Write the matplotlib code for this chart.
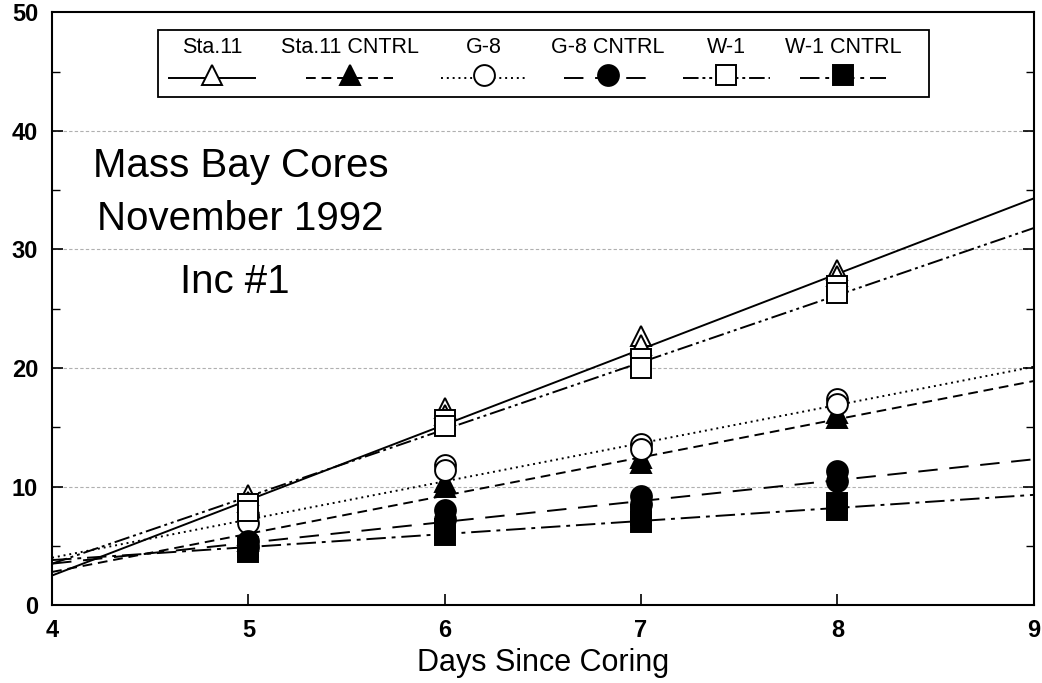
import numpy as np
import matplotlib.pyplot as plt
from matplotlib.lines import Line2D
from matplotlib.patches import Rectangle

plt.rcParams['font.family'] = ['Liberation Sans', 'DejaVu Sans']

# --- DATA ---
days = [5, 6, 7, 8]

sta11_a = [9.3, 16.6, 22.7, 28.3]
sta11_b = [8.7, 16.0, 21.9, 27.8]
sta11c_a = [5.9, 10.4, 12.4, 16.2]
sta11c_b = [5.4, 10.0, 12.0, 15.8]
g8_a = [7.6, 11.8, 13.6, 17.4]
g8_b = [6.9, 11.4, 13.2, 17.0]
g8c_a = [5.4, 8.0, 9.2, 11.3]
g8c_b = [4.9, 7.3, 8.5, 10.5]
w1_a = [8.5, 15.6, 20.8, 26.9]
w1_b = [7.9, 15.1, 20.0, 26.3]
w1c_a = [4.9, 6.4, 7.6, 8.6]
w1c_b = [4.5, 5.9, 7.0, 8.0]

# regression lines, value at day 4 and day 9
fit_days = [4, 9]
sta11_fit = [2.5, 34.3]
sta11c_fit = [2.8, 18.9]
g8_fit = [4.0, 20.1]
g8c_fit = [3.5, 12.3]
w1_fit = [3.5, 31.8]
w1c_fit = [3.8, 9.3]

labels = ["Sta.11", "Sta.11 CNTRL", "G-8", "G-8 CNTRL", "W-1", "W-1 CNTRL"]

series = [
    (sta11_a, sta11_b, sta11_fit, '^', 'white', '-'),
    (sta11c_a, sta11c_b, sta11c_fit, '^', 'black', (0, (5, 3))),
    (g8_a, g8_b, g8_fit, 'o', 'white', (0, (1, 2))),
    (g8c_a, g8c_b, g8c_fit, 'o', 'black', (0, (10, 6))),
    (w1_a, w1_b, w1_fit, 's', 'white', (0, (8, 2, 1.5, 2, 1.5, 2))),
    (w1c_a, w1c_b, w1c_fit, 's', 'black', (0, (10, 3, 2, 3))),
]

fig = plt.figure(figsize=(10.42, 6.83), dpi=100)
ax = fig.add_axes([0.050, 0.114, 0.942, 0.868])

# gridlines
for yv in [10, 20, 30, 40]:
    ax.axhline(yv, color='#b0b0b0', lw=0.8, ls=(0, (3, 2)), zorder=0)

# fitted lines first, then markers
for a, b, fit, mk, fc, ls in series:
    ax.plot(fit_days, fit, color='black', lw=1.4, ls=ls, zorder=2)

for a, b, fit, mk, fc, ls in series:
    for rep in (a, b):
        ax.plot(days, rep, ls='none', marker=mk, ms=15, mfc=fc, mec='black',
                mew=1.4, zorder=3)

ax.set_xlim(4, 9)
ax.set_ylim(0, 50)
ax.set_xticks([4, 5, 6, 7, 8, 9])
ax.set_yticks([0, 10, 20, 30, 40, 50])
ax.set_yticks([5, 15, 25, 35, 45], minor=True)
ax.tick_params(axis='both', direction='in', length=8, width=1.2,
               labelsize=17, pad=10)
ax.tick_params(axis='y', which='both', right=True)
ax.tick_params(axis='y', which='minor', direction='in', length=6, width=1)
for lab in ax.get_xticklabels() + ax.get_yticklabels():
    lab.set_fontweight('bold')
for sp in ax.spines.values():
    sp.set_linewidth(1.5)

ax.set_xlabel("Days Since Coring", fontsize=22, labelpad=4)

# annotation text
ax.text(4.96, 36.1, "Mass Bay Cores", fontsize=29, ha='center', va='baseline')
ax.text(4.96, 31.6, "November 1992", fontsize=29, ha='center', va='baseline')
ax.text(4.93, 26.3, "Inc #1", fontsize=29, ha='center', va='baseline')

# custom legend: label above line sample
box = Rectangle((0.108, 0.857), 0.785, 0.113, transform=ax.transAxes,
                fill=True, facecolor='white', edgecolor='black', lw=1.3, zorder=5)
ax.add_patch(box)
centers = [0.163, 0.303, 0.440, 0.566, 0.687, 0.806]
for (a, b, fit, mk, fc, ls), lab, cx in zip(series, labels, centers):
    ax.text(cx, 0.940, lab, transform=ax.transAxes, fontsize=15.5,
            ha='center', va='center', zorder=6)
    ln = Line2D([cx - 0.044, cx + 0.044], [0.889, 0.889], transform=ax.transAxes,
                color='black', lw=1.4, ls=ls, zorder=6)
    ax.add_line(ln)
    mk_ln = Line2D([cx], [0.895], transform=ax.transAxes, ls='none', marker=mk,
                   ms=15, mfc=fc, mec='black', mew=1.4, zorder=7)
    ax.add_line(mk_ln)

fig.savefig("out.png", dpi=100)
